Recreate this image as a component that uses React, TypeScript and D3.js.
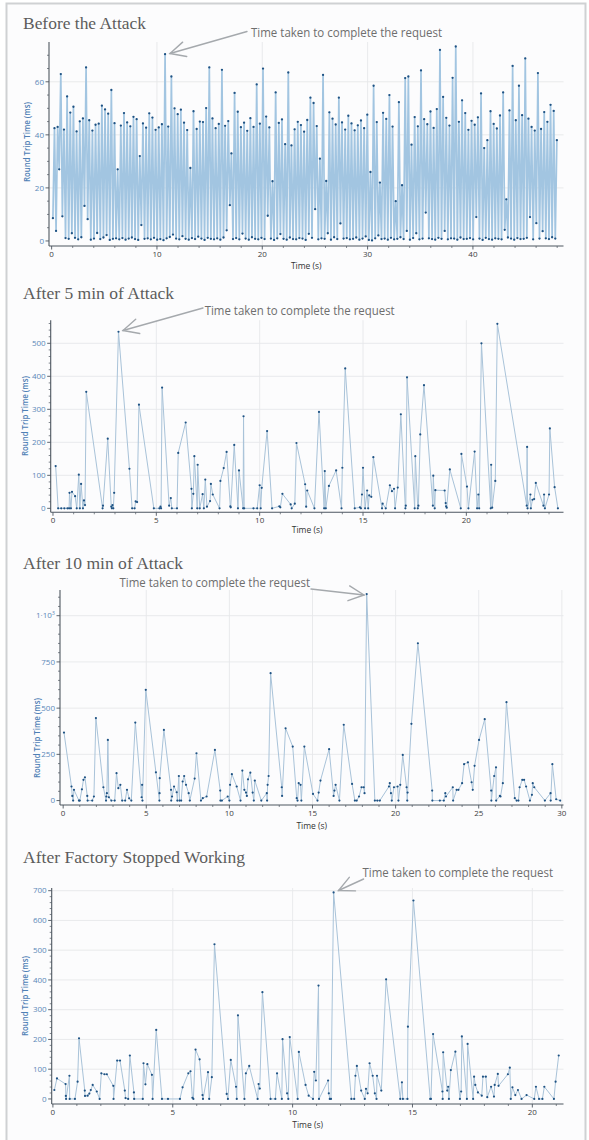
import React from 'react';
import * as d3 from 'd3';

// ---------- Panel 1: Before the Attack (alternating low/high samples) ----------
const BEFORE_STEP = 0.3;
const BEFORE_HIGH = [
  42.5, 43.0, 62.9, 42.0, 54.5, 48.4, 50.6, 41.3, 45.1, 46.2,
  65.4, 45.5, 41.6, 43.8, 44.2, 51.0, 49.6, 48.0, 56.9, 44.4,
  27.0, 43.5, 48.2, 44.7, 43.2, 46.8, 45.9, 32.0, 44.3, 42.7,
  48.1, 46.5, 41.9, 42.8, 44.0, 70.4, 43.1, 62.0, 50.0, 47.8,
  49.5, 44.6, 41.8, 27.5, 48.9, 42.2, 45.0, 44.8, 50.1, 65.4,
  46.2, 42.5, 44.1, 64.5, 43.4, 45.2, 33.0, 55.8, 48.7, 42.9,
  44.6, 41.5, 46.3, 43.0, 59.0, 44.2, 65.0, 46.9, 42.8, 22.5,
  56.0, 44.5, 45.8, 36.5, 63.5, 36.0, 42.1, 44.9, 43.7, 41.2,
  45.6, 54.0, 52.0, 43.3, 31.0, 62.6, 22.6, 48.5, 46.1, 43.9,
  54.0, 44.7, 42.0, 47.2, 44.3, 41.7, 43.6, 45.4, 42.5, 47.6,
  26.0, 58.5, 44.8, 22.0, 48.3, 46.0, 55.0, 43.1, 15.0, 52.3,
  21.0, 61.4, 62.0, 36.3, 46.7, 43.2, 64.3, 45.9, 44.0, 48.8,
  42.6, 49.7, 72.0, 54.3, 46.4, 43.5, 61.5, 73.3, 44.9, 53.0,
  48.2, 41.9, 45.3, 43.8, 46.6, 55.6, 35.0, 38.0, 48.9, 44.1,
  42.4, 47.3, 56.0, 15.7, 49.2, 66.0, 45.5, 58.5, 47.4, 68.8,
  46.1, 43.0, 41.6, 63.3, 42.2, 48.6, 44.9, 51.3, 49.0, 38.0,
];
const BEFORE_LOW = [
  8.6, 3.8, 27.0, 9.3, 1.1, 0.8, 2.9, 1.2, 0.6, 1.4,
  13.2, 8.2, 0.5, 0.9, 3.0, 0.7, 1.3, 2.2, 0.4, 0.8,
  1.0, 0.6, 1.1, 0.5, 0.9, 1.3, 0.7, 0.4, 6.0, 0.8,
  1.0, 0.6, 1.2, 0.5, 0.7, 0.3, 1.0, 1.5, 2.4, 0.9,
  0.6, 1.8, 0.8, 0.5, 1.1, 0.7, 1.6, 0.9, 0.4, 1.2,
  0.8, 0.6, 1.0, 0.5, 1.3, 4.0, 13.5, 0.7, 1.1, 0.6,
  2.8, 0.9, 0.5, 1.4, 0.8, 0.6, 1.2, 0.7, 9.5, 0.9,
  0.4, 1.0, 2.6, 0.8, 0.5, 1.3, 0.7, 0.6, 1.1, 0.9,
  0.4, 2.7, 1.2, 12.0, 0.6, 1.0, 0.8, 2.9, 0.5, 1.4,
  0.7, 6.6, 0.9, 1.1, 0.6, 0.8, 1.3, 0.5, 0.9, 1.7,
  0.4, 0.2, 1.0, 2.1, 0.7, 0.9, 0.5, 1.2, 0.6, 0.8,
  1.4, 0.7, 3.8, 0.5, 1.1, 2.9, 0.6, 0.9, 10.7, 1.0,
  0.7, 0.5, 1.2, 0.8, 3.8, 0.6, 1.0, 0.9, 0.5, 1.3,
  0.7, 0.8, 1.1, 0.6, 9.0, 0.9, 0.4, 1.2, 0.7, 0.5,
  1.0, 0.8, 0.6, 4.2, 1.3, 0.9, 0.5, 1.1, 0.7, 0.8,
  1.2, 9.0, 0.6, 6.7, 0.9, 3.7, 1.0, 0.7, 1.4, 0.9,
];

// ---------- Panel 2: After 5 min of Attack ----------
const AFTER5_T = [
  0.13, 0.25, 0.4, 0.55, 0.7, 0.78, 0.8, 0.87, 0.92, 1.07, 1.15, 1.25, 1.3, 1.36, 1.45, 1.5, 1.55, 1.61,
  2.4, 2.42, 2.65, 2.82, 2.85, 2.88, 2.92, 2.96, 3.17, 3.7, 3.83, 3.95, 4.0, 4.07, 4.16,
  4.88, 5.15, 5.2, 5.23, 5.28, 5.62, 5.7, 5.75, 6.0, 6.06, 6.42, 6.7, 6.72, 6.79, 6.84, 6.98,
  7.0, 7.1, 7.24, 7.3, 7.37, 7.45, 7.6, 7.64, 7.73, 8.06, 8.1, 8.26, 8.4, 8.58, 8.6, 8.77,
  8.95, 9.0, 9.2, 9.22, 9.25, 9.7, 9.88, 10.0, 10.05, 10.1, 10.36, 10.6, 10.95, 11.0, 11.1,
  11.5, 11.55, 11.7, 11.78, 12.2, 12.25, 12.3, 12.65, 12.87, 13.12, 13.15, 13.2, 13.35, 13.7,
  13.96, 14.0, 14.14, 14.6, 14.85, 14.9, 14.95, 15.0, 15.1, 15.2, 15.25, 15.3, 15.4, 15.5,
  15.92, 15.95, 16.1, 16.3, 16.4, 16.5, 16.55, 16.68, 16.83, 17.05, 17.07, 17.13, 17.5, 17.53,
  17.65, 17.68, 17.77, 17.95, 18.38, 18.4, 18.47, 18.5, 18.95, 19.0, 19.02, 19.05, 19.2,
  19.73, 19.76, 20.03, 20.1, 20.4, 20.52, 20.58, 20.62, 20.73, 21.18, 21.2, 21.25, 21.4, 21.5,
  22.92, 22.94, 22.96, 23.1, 23.12, 23.2, 23.28, 23.36, 23.73, 23.76, 23.8, 24.0, 24.04, 24.27, 24.43,
];
const AFTER5_V = [
  128, 0, 0, 0, 0, 0, 47, 0, 50, 37, 0, 102, 0, 74, 0, 24, 10, 353,
  0, 8, 211, 5, 0, 10, 0, 47, 535, 120, 0, 0, 21, 19, 314,
  0, 0, 5, 0, 366, 8, 31, 0, 0, 168, 260, 59, 0, 44, 158, 0,
  132, 0, 43, 0, 87, 5, 22, 74, 42, 0, 83, 122, 171, 6, 3, 192,
  0, 115, 0, 279, 0, 0, 0, 70, 0, 62, 234, 0, 6, 3, 44,
  12, 0, 14, 198, 73, 5, 54, 0, 292, 0, 113, 0, 68, 115,
  0, 123, 424, 0, 3, 0, 42, 123, 0, 54, 0, 39, 35, 155,
  0, 14, 0, 70, 52, 59, 0, 63, 285, 0, 8, 397, 0, 158,
  0, 8, 224, 373, 8, 99, 0, 55, 54, 16, 6, 2, 118,
  0, 165, 66, 0, 172, 0, 42, 0, 500, 0, 132, 2, 83, 559,
  8, 186, 0, 42, 0, 26, 28, 77, 8, 42, 0, 42, 242, 64, 0,
];

// ---------- Panel 3: After 10 min of Attack ----------
const AFTER10_T = [
  0.05, 0.5, 0.55, 0.6, 0.65, 0.95, 1.0, 1.13, 1.22, 1.31, 1.45, 1.47, 1.75, 1.85, 1.97,
  2.42, 2.58, 2.6, 2.63, 2.69, 2.75, 2.9, 3.1, 3.21, 3.32, 3.44, 3.55, 3.73, 3.84, 3.97, 4.1,
  4.34, 4.72, 4.75, 4.77, 4.97, 5.58, 5.79, 5.8, 5.81, 6.06, 6.49, 6.5, 6.55, 6.67, 6.83, 6.87,
  6.96, 7.0, 7.1, 7.19, 7.28, 7.39, 7.55, 7.62, 7.91, 8.02, 8.29, 8.4, 8.63, 9.13, 9.45, 9.46,
  9.55, 9.9, 10.0, 10.04, 10.15, 10.44, 10.67, 10.78, 10.9, 11.0, 11.05, 11.12, 11.26, 11.4,
  11.47, 11.53, 11.92, 12.25, 12.27, 12.3, 12.36, 12.48, 13.15, 13.17, 13.38, 13.81, 14.05,
  14.1, 14.17, 14.28, 14.33, 14.51, 15.03, 15.3, 15.37, 15.48, 16.0, 16.27, 16.32, 16.39, 16.62,
  16.88, 17.38, 17.55, 17.66, 17.8, 17.95, 18.08, 18.13, 18.26, 18.75, 18.9, 19.05, 19.6, 19.65,
  19.72, 19.77, 19.9, 20.12, 20.17, 20.28, 20.43, 20.66, 20.7, 20.72, 20.95, 21.34, 22.2, 22.21,
  22.66, 22.9, 22.99, 23.03, 23.44, 23.46, 23.67, 23.78, 24.0, 24.12, 24.35, 24.57, 24.64, 24.75,
  25.02, 25.36, 25.75, 25.76, 25.93, 26.04, 26.05, 26.27, 26.31, 26.45, 26.67, 27.17, 27.28, 27.39,
  27.46, 27.62, 27.73, 27.85, 28.08, 28.2, 28.25, 28.34, 28.98, 29.32, 29.33, 29.43, 29.66, 29.9,
];
const AFTER10_V = [
  368, 76, 25, 0, 58, 0, 0, 61, 112, 126, 25, 0, 0, 22, 446,
  72, 0, 22, 40, 328, 18, 0, 0, 148, 67, 85, 0, 0, 58, 12, 0,
  422, 18, 85, 0, 599, 153, 0, 40, 121, 382, 58, 0, 22, 76, 45, 0,
  133, 0, 0, 103, 133, 85, 40, 0, 119, 256, 0, 13, 22, 274, 54, 0,
  0, 22, 0, 85, 143, 76, 0, 162, 58, 43, 25, 115, 151, 43,
  0, 108, 0, 40, 0, 85, 133, 689, 72, 25, 391, 292, 13,
  0, 94, 85, 0, 292, 36, 0, 43, 108, 278, 25, 54, 85, 0,
  410, 90, 0, 0, 22, 72, 72, 40, 1117, 0, 0, 0, 76, 94,
  40, 0, 72, 76, 0, 85, 247, 72, 0, 43, 415, 851, 54, 0,
  0, 0, 40, 22, 72, 0, 58, 58, 94, 197, 207, 99, 58, 188,
  328, 440, 54, 0, 133, 180, 0, 25, 22, 94, 532, 13, 0, 0,
  72, 112, 112, 76, 0, 31, 94, 72, 0, 40, 0, 197, 7, 0,
];

// ---------- Panel 4: After Factory Stopped Working ----------
const FACTORY_T = [
  0.06, 0.17, 0.53, 0.54, 0.55, 0.69, 0.7, 0.92, 1.03, 1.09, 1.33, 1.34, 1.45, 1.52, 1.58, 1.66,
  1.83, 1.95, 2.02, 2.15, 2.25, 2.52, 2.53, 2.68, 2.8, 3.0, 3.03, 3.14, 3.21, 3.38, 3.39, 3.75,
  3.78, 3.86, 3.94, 4.13, 4.16, 4.31, 4.55, 4.8, 5.3, 5.41, 5.65, 5.74, 5.82, 5.86, 5.95, 6.12,
  6.24, 6.26, 6.47, 6.52, 6.63, 6.74, 7.25, 7.3, 7.42, 7.64, 7.67, 7.72, 7.99, 8.05, 8.19, 8.54,
  8.58, 8.63, 8.74, 9.08, 9.28, 9.35, 9.55, 9.58, 9.77, 9.82, 9.88, 10.21, 10.26, 10.54, 10.67,
  10.85, 10.9, 10.97, 11.08, 11.1, 11.48, 11.51, 11.55, 11.6, 11.71, 12.45, 12.57, 12.62, 12.68,
  12.86, 13.01, 13.06, 13.13, 13.21, 13.34, 13.43, 13.5, 13.52, 13.7, 13.9, 14.49, 14.56, 14.6,
  14.79, 14.81, 15.04, 15.74, 15.77, 15.86, 16.25, 16.26, 16.28, 16.45, 16.49, 16.52, 16.6, 16.79,
  16.98, 17.03, 17.06, 17.27, 17.3, 17.53, 17.57, 17.62, 17.73, 17.89, 17.94, 18.06, 18.12, 18.28,
  18.4, 18.43, 18.56, 18.59, 18.98, 19.06, 19.1, 19.17, 19.29, 19.4, 19.55, 19.76, 20.08, 20.15,
  20.28, 20.42, 20.5, 20.9, 20.97, 21.1,
];
const FACTORY_V = [
  30, 69, 50, 10, 0, 78, 0, 0, 58, 204, 28, 10, 11, 18, 30, 47,
  25, 0, 86, 83, 83, 44, 0, 129, 129, 28, 3, 0, 146, 22, 0, 0,
  120, 49, 117, 81, 0, 232, 0, 0, 0, 39, 86, 93, 4, 0, 166, 133,
  13, 0, 90, 0, 73, 520, 17, 0, 131, 41, 0, 281, 0, 86, 111, 0,
  50, 35, 359, 0, 0, 86, 0, 201, 19, 0, 208, 0, 158, 47, 11,
  0, 91, 62, 381, 0, 62, 19, 0, 0, 694, 0, 0, 78, 111,
  28, 0, 34, 19, 120, 78, 19, 0, 78, 28, 402, 0, 56, 0,
  0, 243, 667, 0, 0, 218, 25, 0, 157, 28, 41, 0, 97, 159,
  0, 25, 210, 0, 185, 0, 75, 47, 22, 11, 75, 75, 6, 41,
  8, 47, 84, 44, 83, 105, 0, 39, 13, 30, 0, 13, 0, 41,
  0, 0, 41, 0, 58, 146,
];

// ---------- Tick values ----------
const P1_X_TICKS = [0, 10, 20, 30, 40];
const P1_Y_TICKS = [0, 20, 40, 60];
const P2_X_TICKS = [0, 5, 10, 15, 20];
const P2_Y_TICKS = [0, 100, 200, 300, 400, 500];
const P3_X_TICKS = [0, 5, 10, 15, 20, 25, 30];
const P3_Y_TICKS = [0, 250, 500, 750, 1000];
const P4_X_TICKS = [0, 5, 10, 15, 20];
const P4_Y_TICKS = [0, 100, 200, 300, 400, 500, 600, 700];

const TITLES = ['Before the Attack', 'After 5 min of Attack', 'After 10 min of Attack', 'After Factory Stopped Working'];
const ANNOT_TEXT = 'Time taken to complete the request';
const Y_LABEL = 'Round Trip Time (ms)';
const X_LABEL = 'Time (s)';

// Build panel-1 series by interleaving lows and highs
const BEFORE_T: number[] = [];
const BEFORE_V: number[] = [];
BEFORE_HIGH.forEach((h, i) => {
  BEFORE_T.push(i * BEFORE_STEP + 0.12);
  BEFORE_V.push(BEFORE_LOW[i]);
  BEFORE_T.push(i * BEFORE_STEP + 0.27);
  BEFORE_V.push(h);
});

type Pt = [number, number];
interface PanelCfg {
  title: string; titleX: number; titleY: number; titleLen: number;
  t: number[]; v: number[];
  xDomain: [number, number]; xRange: [number, number];
  yDomain: [number, number]; yRange: [number, number];
  xTicks: number[]; xMinorStep: number; yTicks: number[]; yMinorStep: number;
  sci?: boolean;
  yLabelX: number; yLabelY: number; xLabelDy: number;
  annot: { x: number; y: number; len: number; from: Pt; to: Pt };
  lineColor: string; lineWidth: number; dotR: number;
}

const PANELS: PanelCfg[] = [
  {
    title: TITLES[0], titleX: 23, titleY: 28.5, titleLen: 123,
    t: BEFORE_T, v: BEFORE_V,
    xDomain: [-0.25, 48.6], xRange: [49, 563.5], yDomain: [-1.9, 75], yRange: [246, 42],
    xTicks: P1_X_TICKS, xMinorStep: 2, yTicks: P1_Y_TICKS, yMinorStep: 5,
    yLabelX: 27, yLabelY: 142, xLabelDy: 22.5,
    annot: { x: 251, y: 37, len: 191, from: [247, 31.5], to: [170, 53.5] },
    lineColor: '#a2c5e1', lineWidth: 1.7, dotR: 1.15,
  },
  {
    title: TITLES[1], titleX: 23, titleY: 299, titleLen: 151,
    t: AFTER5_T, v: AFTER5_V,
    xDomain: [-0.11, 24.7], xRange: [50.7, 563.5], yDomain: [-12, 570], yRange: [512.3, 320.2],
    xTicks: P2_X_TICKS, xMinorStep: 1, yTicks: P2_Y_TICKS, yMinorStep: 20,
    yLabelX: 25, yLabelY: 416, xLabelDy: 21,
    annot: { x: 204.7, y: 314.5, len: 190, from: [203, 308], to: [123, 330.5] },
    lineColor: '#a9c3d9', lineWidth: 1, dotR: 1.1,
  },
  {
    title: TITLES[2], titleX: 23, titleY: 568.5, titleLen: 160,
    t: AFTER10_T, v: AFTER10_V,
    xDomain: [-0.19, 30.1], xRange: [60, 563.5], yDomain: [-24, 1139], yRange: [805, 590],
    xTicks: P3_X_TICKS, xMinorStep: 1, yTicks: P3_Y_TICKS, yMinorStep: 50, sci: true,
    yLabelX: 37, yLabelY: 738, xLabelDy: 24,
    annot: { x: 119.5, y: 587, len: 190.5, from: [311, 589], to: [364, 595] },
    lineColor: '#a9c3d9', lineWidth: 1, dotR: 1.1,
  },
  {
    title: TITLES[3], titleX: 23, titleY: 863, titleLen: 222,
    t: FACTORY_T, v: FACTORY_V,
    xDomain: [-0.05, 21.3], xRange: [51.7, 563.5], yDomain: [-17, 709], yRange: [1104, 888],
    xTicks: P4_X_TICKS, xMinorStep: 1, yTicks: P4_Y_TICKS, yMinorStep: 20,
    yLabelX: 25, yLabelY: 996, xLabelDy: 24,
    annot: { x: 362.5, y: 876.5, len: 190.5, from: [363.6, 879], to: [338.5, 890.5] },
    lineColor: '#a9c3d9', lineWidth: 1, dotR: 1.1,
  },
];

const AXIS = '#4d5660';
const GRID = '#e6e8ea';
const YTICK = '#5b88b8';
const DOT = '#1e5283';
const TFONT = '"Open Sans", "Noto Sans", sans-serif';

function Arrow({ from, to }: { from: Pt; to: Pt }) {
  const a = Math.atan2(to[1] - from[1], to[0] - from[0]);
  const L = 17;
  const s = (26 * Math.PI) / 180;
  const p1: Pt = [to[0] - L * Math.cos(a - s), to[1] - L * Math.sin(a - s)];
  const p2: Pt = [to[0] - L * Math.cos(a + s), to[1] - L * Math.sin(a + s)];
  return (
    <g stroke="#a5a9ad" strokeWidth={1.4} fill="none" strokeLinecap="round">
      <line x1={from[0]} y1={from[1]} x2={to[0]} y2={to[1]} />
      <polyline points={`${p1[0]},${p1[1]} ${to[0]},${to[1]} ${p2[0]},${p2[1]}`} />
    </g>
  );
}

function Panel({ c }: { c: PanelCfg }) {
  const x = d3.scaleLinear().domain(c.xDomain).range(c.xRange);
  const y = d3.scaleLinear().domain(c.yDomain).range(c.yRange);
  const pts: Pt[] = c.t.map((t, i) => [t, c.v[i]]);
  const line = d3.line<Pt>().x((d) => x(d[0])).y((d) => y(d[1]));
  const ax = c.xRange[0];
  const ay = c.yRange[0];
  const right = c.xRange[1];
  const top = c.yRange[1];
  const xMinor = d3.range(0, c.xDomain[1], c.xMinorStep).filter((d) => !c.xTicks.includes(d));
  const yMinor = d3.range(0, c.yDomain[1], c.yMinorStep).filter((d) => !c.yTicks.includes(d));
  return (
    <g>
      {/* grid */}
      {c.yTicks.filter((d) => d !== 0).map((d) => (
        <line key={'gy' + d} x1={ax} x2={right} y1={y(d)} y2={y(d)} stroke={GRID} strokeWidth={0.9} />
      ))}
      {c.xTicks.filter((d) => d !== 0).map((d) => (
        <line key={'gx' + d} x1={x(d)} x2={x(d)} y1={ay} y2={top} stroke={GRID} strokeWidth={0.9} />
      ))}
      {/* series */}
      <path d={line(pts) || ''} fill="none" stroke={c.lineColor} strokeWidth={c.lineWidth} strokeLinejoin="round" />
      {pts.map((d, i) => (
        <circle key={i} cx={x(d[0])} cy={y(d[1])} r={c.dotR} fill={DOT} />
      ))}
      {/* axes */}
      <line x1={ax} x2={right} y1={ay} y2={ay} stroke={AXIS} strokeWidth={1.1} />
      <line x1={ax} x2={ax} y1={ay} y2={top} stroke={AXIS} strokeWidth={1.1} />
      {c.xTicks.map((d) => (
        <g key={'xt' + d}>
          <line x1={x(d)} x2={x(d)} y1={ay} y2={ay + 3.5} stroke={AXIS} strokeWidth={0.9} />
          <text x={x(d)} y={ay + 10.5} textAnchor="middle" fontSize={8} fontFamily={TFONT} fill="#3d3d3d">{d}</text>
        </g>
      ))}
      {xMinor.map((d) => (
        <line key={'xm' + d} x1={x(d)} x2={x(d)} y1={ay} y2={ay + 2} stroke={AXIS} strokeWidth={0.7} />
      ))}
      {c.yTicks.map((d) => (
        <g key={'yt' + d}>
          <line x1={ax - 3.5} x2={ax} y1={y(d)} y2={y(d)} stroke={AXIS} strokeWidth={0.9} />
          <text x={ax - 5} y={y(d) + 2.8} textAnchor="end" fontSize={8} fontFamily={TFONT} fill={YTICK}>
            {c.sci && d === 1000 ? (
              <>
                1·10<tspan fontSize={5.5} dy={-3}>3</tspan>
              </>
            ) : (
              d
            )}
          </text>
        </g>
      ))}
      {yMinor.map((d) => (
        <line key={'ym' + d} x1={ax - 2} x2={ax} y1={y(d)} y2={y(d)} stroke={AXIS} strokeWidth={0.7} />
      ))}
      {/* labels */}
      <text x={(ax + right) / 2} y={ay + c.xLabelDy} textAnchor="middle" fontSize={8.5} fontFamily={TFONT} fill="#333">
        {X_LABEL}
      </text>
      <text
        transform={`translate(${c.yLabelX},${c.yLabelY}) rotate(-90)`}
        textAnchor="middle"
        fontSize={8.5}
        fontWeight={600}
        fontFamily={TFONT}
        fill="#4f80b5"
        textLength={80}
        lengthAdjust="spacingAndGlyphs"
        dy={3}
      >
        {Y_LABEL}
      </text>
      {/* title */}
      <text x={c.titleX} y={c.titleY} fontSize={17.5} fontFamily='"Liberation Serif", "Times New Roman", serif' fill="#5c5c5c"
        textLength={c.titleLen} lengthAdjust="spacingAndGlyphs">
        {c.title}
      </text>
      {/* annotation */}
      <text x={c.annot.x} y={c.annot.y} fontSize={12.5} fontFamily='"Open Sans", sans-serif' fill="#6e6e6e"
        textLength={c.annot.len} lengthAdjust="spacingAndGlyphs">
        {ANNOT_TEXT}
      </text>
      <Arrow from={c.annot.from} to={c.annot.to} />
    </g>
  );
}

export default function App() {
  return (
    <svg width={589} height={1140} style={{ position: 'absolute', left: 0, top: 0, display: 'block' }}>
      <rect x={0} y={0} width={589} height={1140} fill="#ffffff" />
      <rect x={6.5} y={3.5} width={579} height={1145} fill="#fcfcfd" stroke="#cfd1d3" strokeWidth={2} />
      {PANELS.map((c, i) => (
        <Panel key={i} c={c} />
      ))}
    </svg>
  );
}
